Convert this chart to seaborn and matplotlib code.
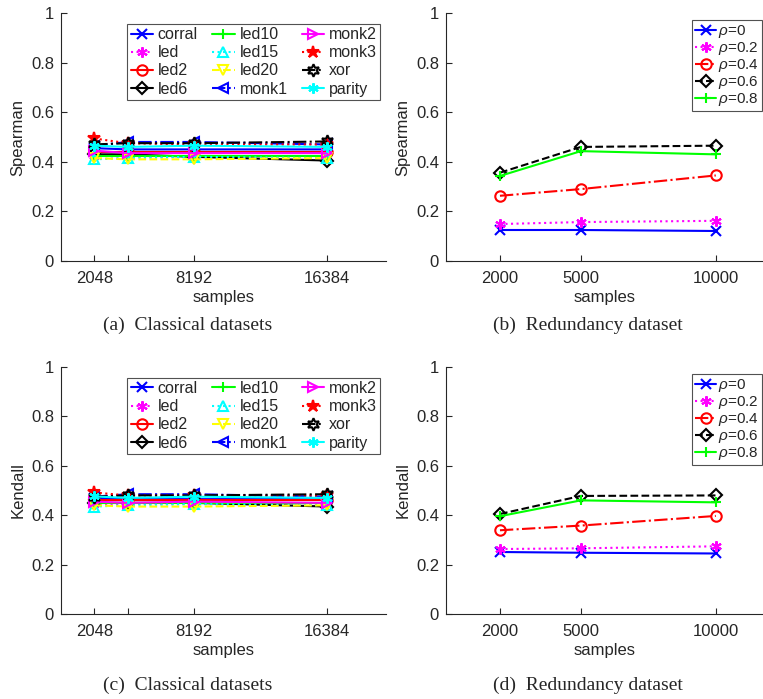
import matplotlib
matplotlib.use("Agg")
import matplotlib.pyplot as plt
import seaborn as sns
import pandas as pd

# ---------------- data ----------------
samples_cls = [2048, 4096, 8192, 16384]
cls_names = ["corral", "led", "led2", "led6", "led10", "led15", "led20",
             "monk1", "monk2", "monk3", "xor", "parity"]

spearman_corral = [0.455, 0.450, 0.450, 0.450]
spearman_led    = [0.425, 0.420, 0.420, 0.420]
spearman_led2   = [0.440, 0.440, 0.440, 0.440]
spearman_led6   = [0.430, 0.430, 0.420, 0.405]
spearman_led10  = [0.425, 0.425, 0.425, 0.425]
spearman_led15  = [0.410, 0.415, 0.420, 0.415]
spearman_led20  = [0.415, 0.410, 0.410, 0.415]
spearman_monk1  = [0.465, 0.480, 0.480, 0.470]
spearman_monk2  = [0.445, 0.435, 0.435, 0.435]
spearman_monk3  = [0.494, 0.475, 0.470, 0.470]
spearman_xor    = [0.470, 0.475, 0.475, 0.482]
spearman_parity = [0.465, 0.460, 0.465, 0.460]

kendall_corral = [0.470, 0.465, 0.465, 0.465]
kendall_led    = [0.445, 0.445, 0.445, 0.445]
kendall_led2   = [0.460, 0.460, 0.460, 0.460]
kendall_led6   = [0.450, 0.450, 0.450, 0.435]
kendall_led10  = [0.450, 0.450, 0.450, 0.450]
kendall_led15  = [0.435, 0.440, 0.445, 0.440]
kendall_led20  = [0.440, 0.435, 0.435, 0.440]
kendall_monk1  = [0.475, 0.485, 0.485, 0.475]
kendall_monk2  = [0.455, 0.450, 0.455, 0.450]
kendall_monk3  = [0.492, 0.480, 0.480, 0.480]
kendall_xor    = [0.475, 0.480, 0.480, 0.485]
kendall_parity = [0.476, 0.470, 0.475, 0.470]

samples_red = [2000, 5000, 10000]
rho_labels = [r"$\rho$=0", r"$\rho$=0.2", r"$\rho$=0.4", r"$\rho$=0.6", r"$\rho$=0.8"]

spearman_rho0  = [0.125, 0.125, 0.121]
spearman_rho02 = [0.149, 0.157, 0.162]
spearman_rho04 = [0.263, 0.290, 0.345]
spearman_rho06 = [0.356, 0.460, 0.465]
spearman_rho08 = [0.343, 0.443, 0.430]

kendall_rho0  = [0.251, 0.248, 0.245]
kendall_rho02 = [0.263, 0.266, 0.274]
kendall_rho04 = [0.339, 0.358, 0.397]
kendall_rho06 = [0.405, 0.478, 0.480]
kendall_rho08 = [0.396, 0.460, 0.452]

spearman_cls = [spearman_corral, spearman_led, spearman_led2, spearman_led6,
                spearman_led10, spearman_led15, spearman_led20, spearman_monk1,
                spearman_monk2, spearman_monk3, spearman_xor, spearman_parity]
kendall_cls = [kendall_corral, kendall_led, kendall_led2, kendall_led6,
               kendall_led10, kendall_led15, kendall_led20, kendall_monk1,
               kendall_monk2, kendall_monk3, kendall_xor, kendall_parity]
spearman_red = [spearman_rho0, spearman_rho02, spearman_rho04, spearman_rho06, spearman_rho08]
kendall_red = [kendall_rho0, kendall_rho02, kendall_rho04, kendall_rho06, kendall_rho08]

# ---------------- styles ----------------
B, M, R, K, G, C, Y = "#0000ff", "#ff00ff", "#ff0000", "#000000", "#00ff00", "#00ffff", "#ffff00"
cls_styles = [
    dict(color=B, marker="x", linestyle="-", mfc="none", ms=7),
    dict(color=M, marker=(6, 2, 0), linestyle=":", mfc="none"),
    dict(color=R, marker="o", linestyle="-", mfc="none"),
    dict(color=K, marker="D", linestyle="-", mfc="none", ms=6.5),
    dict(color=G, marker="+", linestyle="-", mfc="none"),
    dict(color=C, marker="^", linestyle=":", mfc="none"),
    dict(color=Y, marker="v", linestyle="--", mfc="none"),
    dict(color=B, marker="<", linestyle="-.", mfc="none"),
    dict(color=M, marker=">", linestyle="-", mfc="none"),
    dict(color=R, marker="*", linestyle=":", mfc=R, ms=9),
    dict(color=K, marker=(6, 1, 0), linestyle="-.", mfc="none", ms=9),
    dict(color=C, marker=(6, 2, 0), linestyle="-", mfc="none"),
]
red_styles = [
    dict(color=B, marker="x", linestyle="-", mfc="none", ms=7),
    dict(color=M, marker=(6, 2, 0), linestyle=":", mfc="none"),
    dict(color=R, marker="o", linestyle="-.", mfc="none"),
    dict(color=K, marker="D", linestyle="--", mfc="none", ms=6.5),
    dict(color=G, marker="+", linestyle="-", mfc="none"),
]

sns.set_style("ticks")
plt.rcParams["font.family"] = ["Liberation Sans", "DejaVu Sans"]
plt.rcParams["mathtext.fontset"] = "custom"
plt.rcParams["mathtext.it"] = "Liberation Sans:italic"
plt.rcParams["mathtext.rm"] = "Liberation Sans"

AX_COL = "#262626"
fig = plt.figure(figsize=(7.63, 6.99), dpi=100)

W, H = 763.0, 699.0
def pos(l, r, t, b):
    return [l / W, 1 - b / H, (r - l) / W, (b - t) / H]

ax_tl = fig.add_axes(pos(61, 386, 13, 261))
ax_tr = fig.add_axes(pos(446, 763, 13, 261))
ax_bl = fig.add_axes(pos(61, 386, 367, 614))
ax_br = fig.add_axes(pos(446, 763, 367, 614))


def draw(ax, xs, series, names, styles):
    for vals, name, st in zip(series, names, styles):
        df = pd.DataFrame({"x": xs, "y": vals})
        st = dict(st)
        ms = st.pop("ms", 7.5)
        mfc = st.pop("mfc")
        sns.lineplot(data=df, x="x", y="y", ax=ax, label=name,
                     color=st["color"], marker=st["marker"],
                     linestyle=st["linestyle"], linewidth=1.5,
                     markersize=ms, markerfacecolor=mfc,
                     markeredgecolor=st["color"], markeredgewidth=1.5)


def style_axes(ax, ylabel, xticks, xticklabels, xlim):
    ax.set_ylim(0, 1)
    ax.set_xlim(*xlim)
    ax.set_yticks([0, 0.2, 0.4, 0.6, 0.8, 1])
    ax.set_yticklabels(["0", "0.2", "0.4", "0.6", "0.8", "1"])
    ax.set_xticks(xticks)
    ax.set_xticklabels(xticklabels)
    ax.set_xlabel("samples", fontsize=12, color=AX_COL, labelpad=3)
    ax.set_ylabel(ylabel, fontsize=12, color=AX_COL, labelpad=4)
    ax.tick_params(direction="in", length=4, width=0.8, labelsize=12,
                   colors=AX_COL)
    ax.tick_params(axis="x", pad=7)
    ax.tick_params(axis="y", pad=5)
    for s in ["top", "right"]:
        ax.spines[s].set_visible(False)
    for s in ["left", "bottom"]:
        ax.spines[s].set_color(AX_COL)
        ax.spines[s].set_linewidth(0.8)


for ax, series, ylabel in [(ax_tl, spearman_cls, "Spearman"), (ax_bl, kendall_cls, "Kendall")]:
    draw(ax, samples_cls, series, cls_names, cls_styles)
    style_axes(ax, ylabel, samples_cls, ["2048", "", "8192", "16384"], (0, 20000))
    leg = ax.legend(loc="upper right", bbox_to_anchor=(0.982, 0.956), ncol=3,
                    fontsize=11.5, frameon=True, fancybox=False, borderaxespad=0,
                    labelspacing=0.2, borderpad=0.2, handlelength=1.4,
                    handletextpad=0.3, columnspacing=0.9)
    leg.get_frame().set_edgecolor(AX_COL)
    leg.get_frame().set_linewidth(0.8)

for ax, series, ylabel in [(ax_tr, spearman_red, "Spearman"), (ax_br, kendall_red, "Kendall")]:
    draw(ax, samples_red, series, rho_labels, red_styles)
    style_axes(ax, ylabel, samples_red, ["2000", "5000", "10000"], (0, 11750))
    leg = ax.legend(loc="upper right", bbox_to_anchor=(0.997, 0.972), ncol=1,
                    fontsize=11, frameon=True, fancybox=False, borderaxespad=0,
                    labelspacing=0.0, borderpad=0.2, handlelength=1.35,
                    handletextpad=0.15)
    leg.get_frame().set_edgecolor(AX_COL)
    leg.get_frame().set_linewidth(0.8)

serif = ["Liberation Serif", "DejaVu Serif"]
for x, y, txt in [(188, 325, "(a)  Classical datasets"),
                  (588, 325, "(b)  Redundancy dataset"),
                  (188, 685, "(c)  Classical datasets"),
                  (588, 685, "(d)  Redundancy dataset")]:
    fig.text(x / W, 1 - y / H, txt, ha="center", va="center",
             fontsize=14, family=serif)

fig.savefig("out.png", dpi=100)
